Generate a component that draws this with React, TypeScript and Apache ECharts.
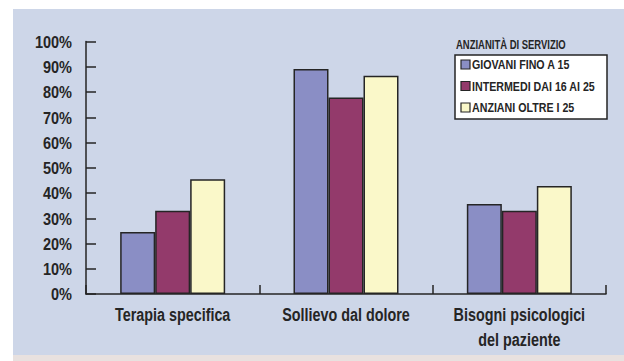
import React, { useEffect, useRef } from "react";
import * as echarts from "echarts";

const categories = ["Terapia specifica", "Sollievo dal dolore", "Bisogni psicologici\ndel paziente"];
const seriesNames = ["GIOVANI FINO A 15", "INTERMEDI DAI 16 AI 25", "ANZIANI OLTRE I 25"];
const giovani = [24.6, 89.1, 35.6];
const intermedi = [33.0, 77.8, 33.0];
const anziani = [45.4, 86.4, 42.8];
const yTicks = [0, 10, 20, 30, 40, 50, 60, 70, 80, 90, 100];
const legendTitle = "ANZIANITÀ DI SERVIZIO";

const FONT = "'Liberation Sans', Arial, Helvetica, sans-serif";
const INK = "#252525";
const PANEL = "#CDD6E8";
const colors = ["#8A8EC5", "#933A6B", "#FAF8C9"];

// condensed bold text: a regular bold face squeezed horizontally
function narrowText(text: string, x: number, y: number, size: number, squeeze: number, align: string) {
  return {
    type: "text",
    x,
    y,
    scaleX: squeeze,
    silent: true,
    z: 10,
    style: {
      text,
      font: `bold ${size}px ${FONT}`,
      fill: INK,
      textAlign: align,
      textVerticalAlign: "middle",
    },
  };
}

export default function App() {
  const ref = useRef<HTMLDivElement>(null);

  useEffect(() => {
    if (!ref.current) return;
    const chart = echarts.init(ref.current, null, { renderer: "svg" });
    const values = [giovani, intermedi, anziani];

    chart.setOption({
      animation: false,
      backgroundColor: PANEL,
      grid: { left: 86, right: 18, top: 41.5, bottom: 67, containLabel: false },
      xAxis: {
        type: "category",
        data: categories,
        axisLine: { lineStyle: { color: INK, width: 1.5 } },
        axisTick: { show: true, inside: true, length: 9, lineStyle: { color: INK, width: 1.5 } },
        axisLabel: { show: false },
      },
      yAxis: {
        type: "value",
        min: 0,
        max: 100,
        interval: 10,
        axisLine: { show: true, lineStyle: { color: INK, width: 1.5 } },
        axisTick: { show: true, inside: true, length: 10, lineStyle: { color: INK, width: 1.5 } },
        splitLine: { show: false },
        axisLabel: { show: false },
      },
      series: seriesNames.map((name, i) => ({
        name,
        type: "bar",
        data: values[i],
        barWidth: 35,
        barGap: "0%",
        itemStyle: { color: colors[i], borderColor: INK, borderWidth: 1.5 },
      })),
    });

    const elements: any[] = [
      { type: "rect", shape: { x: 0, y: 0, width: 624, height: 9 }, style: { fill: "#ffffff" }, silent: true },
      { type: "rect", shape: { x: 0, y: 0, width: 13, height: 361 }, style: { fill: "#ffffff" }, silent: true },
      { type: "rect", shape: { x: 13, y: 355, width: 611, height: 6 }, style: { fill: "#E8E1DF" }, silent: true },
    ];

    // value axis labels, placed at each tick through the axis scale
    yTicks.forEach((v) => {
      const py = chart.convertToPixel({ yAxisIndex: 0 }, v) as number;
      elements.push(narrowText(`${v}%`, 72, py + 0.5, 16.5, 0.88, "right"));
    });

    // category labels, one text per line
    const baseY = (chart.convertToPixel({ yAxisIndex: 0 }, 0) as number) + 21;
    categories.forEach((c) => {
      const px = chart.convertToPixel({ xAxisIndex: 0 }, c) as number;
      c.split("\n").forEach((line, li) => {
        elements.push(narrowText(line, px, baseY + li * 24.5, 17.5, 0.82, "center"));
      });
    });

    // legend box
    const box = { x: 455, y: 55, w: 152, h: 64 };
    elements.push({
      type: "rect",
      shape: { x: box.x, y: box.y, width: box.w, height: box.h },
      style: { fill: "#ffffff", stroke: INK, lineWidth: 1.5 },
      silent: true,
      z: 9,
    });
    elements.push(narrowText(legendTitle, 456, 45, 12, 0.79, "left"));
    seriesNames.forEach((name, i) => {
      const cy = 64.5 + i * 21.5;
      elements.push({
        type: "rect",
        shape: { x: 461, y: cy - 4.5, width: 9, height: 9 },
        style: { fill: colors[i], stroke: INK, lineWidth: 1.2 },
        silent: true,
        z: 10,
      });
      elements.push(narrowText(name, 472, cy + 0.5, 13.5, 0.79, "left"));
    });

    chart.setOption({ graphic: elements });

    return () => chart.dispose();
  }, []);

  return (
    <div
      ref={ref}
      style={{ position: "fixed", left: 0, top: 0, width: 624, height: 361 }}
    />
  );
}
